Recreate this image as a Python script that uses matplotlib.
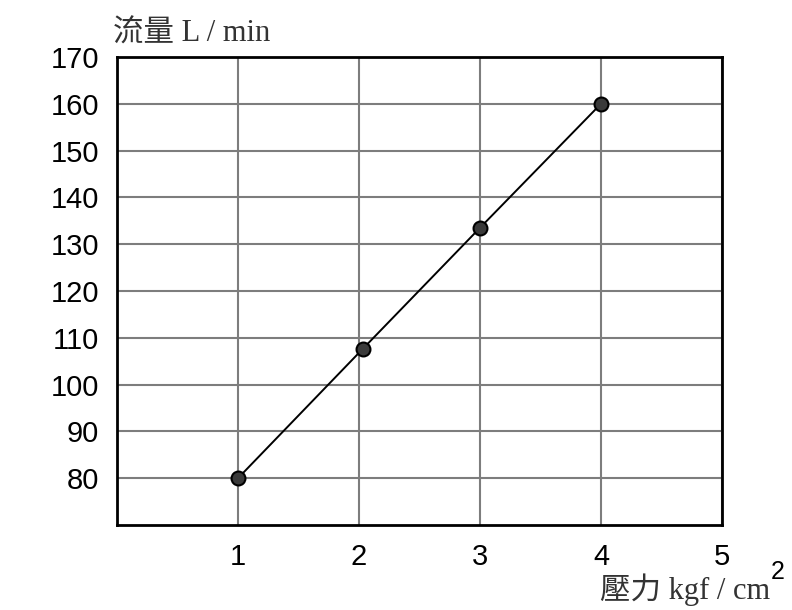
import matplotlib
matplotlib.use("Agg")
from matplotlib import pyplot as plt

# pressure (kgf/cm2) vs flow (L/min)
pressure = [1, 2.03, 3, 4]
flow = [80, 107.6, 133.5, 160]

x_ticks = [1, 2, 3, 4, 5]
y_ticks = [80, 90, 100, 110, 120, 130, 140, 150, 160, 170]

label_font = ['Liberation Serif', 'Noto Sans CJK TC', 'DejaVu Sans']

fig = plt.figure(figsize=(7.92, 6.10), dpi=100)
ax = fig.add_axes([0.1477, 0.1393, 0.7639, 0.7673])

ax.plot(pressure, flow, color='black', lw=1.4, marker='o', ms=10,
        mfc='#3a3a3a', mec='black', mew=1.5, zorder=3)

ax.set_xlim(0, 5)
ax.set_ylim(70, 170)
ax.set_xticks(x_ticks)
ax.set_yticks(y_ticks)
ax.tick_params(length=0, labelsize=21, pad=13)
for lab in ax.get_xticklabels() + ax.get_yticklabels():
    lab.set_family(['Liberation Sans', 'DejaVu Sans'])

ax.grid(True, color='#7d7d7d', lw=1.5)
ax.set_axisbelow(True)
for sp in ax.spines.values():
    sp.set_linewidth(2)
    sp.set_color('black')

# axis titles (drawn as free text like the scanned original)
fig.text(113 / 792, 1 - 34 / 610, '流量 L / min', fontsize=22, family=label_font,
         color='#333333', va='center', ha='left')
fig.text(770 / 792, 1 - 590 / 610, '壓力 kgf / cm', fontsize=22, family=label_font,
         color='#333333', va='center', ha='right')
fig.text(771 / 792, 1 - 572 / 610, '2', fontsize=18, family=['Liberation Sans'],
         color='black', va='center', ha='left')

fig.savefig('out.png', dpi=100)
